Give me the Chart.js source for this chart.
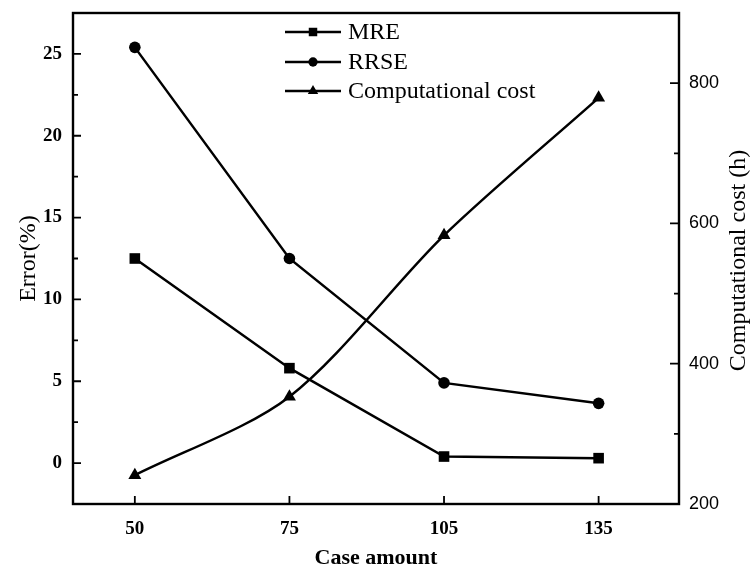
<!DOCTYPE html>
<html>
<head>
<meta charset="utf-8">
<script src="https://cdn.jsdelivr.net/npm/chart.js@4/dist/chart.umd.min.js"></script>
<style>
  html, body { margin: 0; padding: 0; background: #fff; }
  #wrap { width: 752px; height: 574px; }
</style>
</head>
<body>
<div id="wrap"><canvas id="c" width="752" height="574"></canvas></div>
<script>
const categories = ['50', '75', '105', '135'];
const mreValues = [12.5, 5.8, 0.4, 0.3];
const rrseValues = [25.4, 12.5, 4.9, 3.65];
const costValues = [241, 353, 583, 779];
const errorTicks = [0, 5, 10, 15, 20, 25];
const costTicks = [200, 400, 600, 800];
const seriesLabels = ['MRE', 'RRSE', 'Computational cost'];

const SERIF = '"Liberation Serif", "Times New Roman", serif';
const SANS = '"Liberation Sans", Arial, sans-serif';

function toPoints(arr) { return arr.map((v, i) => ({ x: i, y: v })); }

const framePlugin = {
  id: 'framePlugin',
  afterDraw(chart) {
    const ctx = chart.ctx;
    const a = chart.chartArea;
    const xs = chart.scales.x, ys = chart.scales.y, y1 = chart.scales.y1;
    ctx.save();
    ctx.strokeStyle = '#000';
    ctx.lineWidth = 2.4;
    ctx.strokeRect(a.left, a.top, a.right - a.left, a.bottom - a.top);
    ctx.lineWidth = 1.8;
    ctx.beginPath();
    errorTicks.forEach((v, i) => {
      const p = ys.getPixelForValue(v);
      ctx.moveTo(a.left, p); ctx.lineTo(a.left + 8, p);
      if (i < errorTicks.length - 1) {
        const m = ys.getPixelForValue((v + errorTicks[i + 1]) / 2);
        ctx.moveTo(a.left, m); ctx.lineTo(a.left + 5, m);
      }
    });
    costTicks.forEach((v, i) => {
      const p = y1.getPixelForValue(v);
      ctx.moveTo(a.right, p); ctx.lineTo(a.right - 9, p);
      if (i < costTicks.length - 1) {
        const m = y1.getPixelForValue((v + costTicks[i + 1]) / 2);
        ctx.moveTo(a.right, m); ctx.lineTo(a.right - 5, m);
      }
    });
    categories.forEach((c, i) => {
      const p = xs.getPixelForValue(i);
      ctx.moveTo(p, a.bottom); ctx.lineTo(p, a.bottom - 8);
    });
    ctx.stroke();

    ctx.save();
    ctx.translate(739, (a.top + a.bottom) / 2 + 2);
    ctx.rotate(-Math.PI / 2);
    ctx.font = '24px ' + SERIF;
    ctx.fillStyle = '#000';
    ctx.textAlign = 'center';
    ctx.textBaseline = 'middle';
    ctx.fillText('Computational cost (h)', 0, 0);
    ctx.restore();

    const rows = [32, 62, 91];
    chart.data.datasets.forEach((ds, i) => {
      const y = rows[i];
      ctx.beginPath();
      ctx.lineWidth = 2.4;
      ctx.moveTo(285, y); ctx.lineTo(341, y);
      ctx.stroke();
      ctx.fillStyle = '#000';
      Chart.helpers.drawPoint(ctx, {
        pointStyle: ds.pointStyle, radius: ds.pointRadius * 0.8, rotation: 0, borderWidth: 0
      }, 313, y);
      ctx.font = '24px ' + SERIF;
      ctx.textAlign = 'left';
      ctx.textBaseline = 'middle';
      ctx.fillText(ds.label, 348, y + 1);
    });
    ctx.restore();
  }
};

function noPadV(s) { s.paddingTop = 0; s.paddingBottom = 0; }

new Chart(document.getElementById('c'), {
  type: 'line',
  data: {
    datasets: [
      {
        label: seriesLabels[0], data: toPoints(mreValues), yAxisID: 'y',
        borderColor: '#000', backgroundColor: '#000', borderWidth: 2.5,
        pointStyle: 'rect', pointRadius: 7.5, pointBackgroundColor: '#000', pointBorderWidth: 0, tension: 0
      },
      {
        label: seriesLabels[1], data: toPoints(rrseValues), yAxisID: 'y',
        borderColor: '#000', backgroundColor: '#000', borderWidth: 2.5,
        pointStyle: 'circle', pointRadius: 5.8, pointBackgroundColor: '#000', pointBorderWidth: 0, tension: 0
      },
      {
        label: seriesLabels[2], data: toPoints(costValues), yAxisID: 'y1',
        borderColor: '#000', backgroundColor: '#000', borderWidth: 2.5,
        pointStyle: 'triangle', pointRadius: 7.5, pointBackgroundColor: '#000', pointBorderWidth: 0, tension: 0.3
      }
    ]
  },
  options: {
    responsive: false,
    animation: false,
    events: [],
    layout: { padding: { top: 13, left: 0, right: 0, bottom: 0 } },
    plugins: { legend: { display: false }, tooltip: { enabled: false } },
    scales: {
      x: {
        type: 'linear', position: 'bottom', min: -0.4, max: 3.52,
        afterBuildTicks(s) { s.ticks = categories.map((c, i) => ({ value: i })); },
        afterFit(s) { s.height = 70; s.paddingLeft = 0; s.paddingRight = 0; },
        grid: { display: false, drawTicks: false },
        border: { display: false },
        ticks: {
          padding: 14, color: '#000', maxRotation: 0, autoSkip: false,
          font: { family: SERIF, size: 19, weight: 'bold' },
          callback: (v) => categories[v] ?? ''
        },
        title: {
          display: true, text: 'Case amount', color: '#000',
          font: { family: SERIF, size: 22, weight: 'bold' },
          padding: { top: 0, bottom: 2 }
        }
      },
      y: {
        type: 'linear', position: 'left', min: -2.5, max: 27.5,
        afterBuildTicks(s) { s.ticks = errorTicks.map(v => ({ value: v })); },
        afterFit(s) { s.width = 73; noPadV(s); },
        grid: { display: false, drawTicks: false },
        border: { display: false },
        ticks: {
          padding: 11, color: '#000',
          font: { family: SERIF, size: 19, weight: 'bold' }
        },
        title: {
          display: true, text: 'Error(%)', color: '#000',
          font: { family: SERIF, size: 24 },
          padding: { top: 14, bottom: 0 }
        }
      },
      y1: {
        type: 'linear', position: 'right', min: 200, max: 900,
        afterBuildTicks(s) { s.ticks = costTicks.map(v => ({ value: v })); },
        afterFit(s) { s.width = 73; noPadV(s); },
        grid: { display: false, drawTicks: false },
        border: { display: false },
        ticks: {
          padding: 10, color: '#000',
          font: { family: SANS, size: 18 }
        }
      }
    }
  },
  plugins: [framePlugin]
});
</script>
</body>
</html>
